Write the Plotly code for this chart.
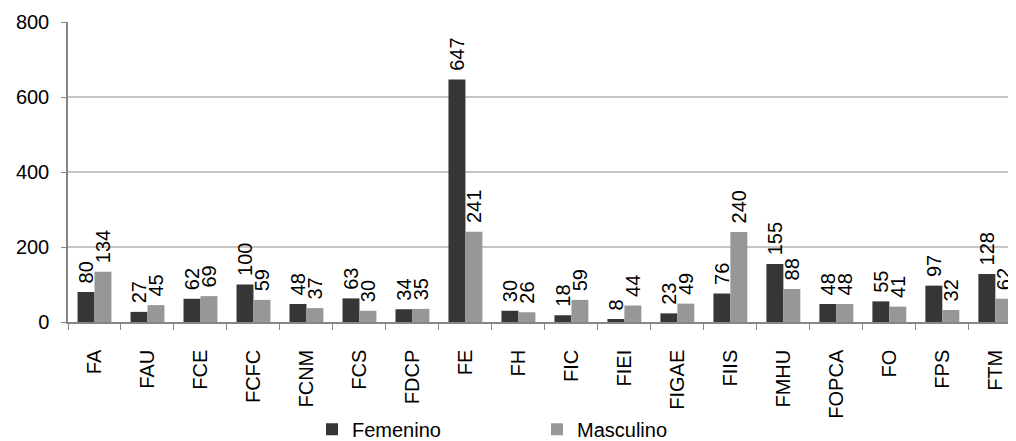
import plotly.graph_objects as go

categories = ["FA", "FAU", "FCE", "FCFC", "FCNM", "FCS", "FDCP", "FE", "FH", "FIC",
              "FIEI", "FIGAE", "FIIS", "FMHU", "FOPCA", "FO", "FPS", "FTM"]
femenino = [80, 27, 62, 100, 48, 63, 34, 647, 30, 18, 8, 23, 76, 155, 48, 55, 97, 128]
masculino = [134, 45, 69, 59, 37, 30, 35, 241, 26, 59, 44, 49, 240, 88, 48, 41, 32, 62]
y_ticks = [0, 200, 400, 600, 800]

FONT = "Liberation Sans, Arial, sans-serif"
fig = go.Figure()
for name, vals, col in [("Femenino", femenino, "#363636"), ("Masculino", masculino, "#979797")]:
    fig.add_trace(go.Bar(
        x=categories, y=vals, name=name, marker_color=col, marker_line_width=0,
        text=vals, texttemplate="\u00a0%{text}", textposition="outside", textangle=-90,
        constraintext="none", cliponaxis=False,
        textfont=dict(family=FONT, size=20, color="#000000"),
    ))

# page body has an 8px margin, so the figure is laid out 8px up/left of its target
fig.update_layout(
    width=1008, height=441,
    margin=dict(l=60, r=0, t=14, b=127, autoexpand=False),
    paper_bgcolor="white", plot_bgcolor="white",
    barmode="group", bargap=0.36, bargroupgap=0,
    font=dict(family=FONT, size=20, color="#000000"),
    showlegend=True,
    legend=dict(orientation="h", xref="container", yref="container",
                x=0.5248, xanchor="center", y=0.045, yanchor="middle",
                bgcolor="rgba(0,0,0,0)",
                font=dict(family=FONT, size=20, color="#000000"),
                entrywidth=180, itemwidth=30, traceorder="normal"),
    xaxis=dict(
        type="category", range=[-0.5, 17.39], tickangle=-90, automargin=False,
        showline=True, linecolor="#868686", linewidth=1.5,
        ticks="outside", ticklen=6, tickcolor="#868686",
        tickson="boundaries", ticklabelstandoff=18,
        tickfont=dict(family=FONT, size=20, color="#000000"),
        showgrid=False, zeroline=False,
    ),
    yaxis=dict(
        range=[0, 800], tickvals=y_ticks, automargin=False,
        showline=True, linecolor="#868686", linewidth=1.5,
        ticks="outside", ticklen=5, tickcolor="#868686",
        ticklabelstandoff=8,
        showgrid=True, gridcolor="#c6c6c6", gridwidth=1.5,
        zeroline=False,
        tickfont=dict(family=FONT, size=20, color="#000000"),
    ),
)

fig.write_html("out.html")
